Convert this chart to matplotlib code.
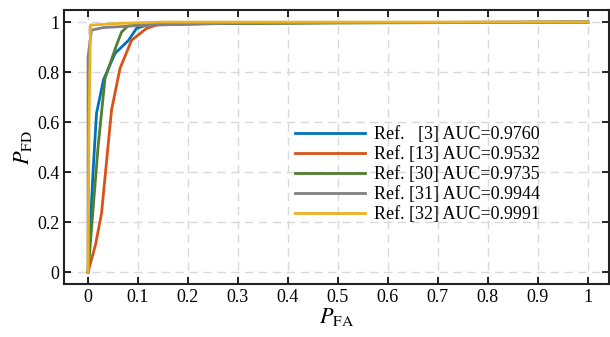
import numpy as np
import matplotlib.pyplot as plt

plt.rcParams['font.family'] = 'Liberation Serif'
plt.rcParams['mathtext.fontset'] = 'stix'

# curvas ROC
x_3 = [0, 0.005, 0.01, 0.017, 0.031, 0.054, 0.081, 0.097, 0.12, 0.2, 0.5, 1]
y_3 = [0, 0.2, 0.4, 0.636, 0.77, 0.875, 0.927, 0.975, 0.99, 0.995, 0.998, 1]

x_13 = [0, 0.015, 0.027, 0.047, 0.064, 0.087, 0.117, 0.14, 0.25, 0.5, 1]
y_13 = [0, 0.11, 0.235, 0.648, 0.815, 0.927, 0.975, 0.99, 0.995, 0.998, 1]

x_30 = [0, 0.01, 0.02, 0.034, 0.057, 0.067, 0.08, 0.12, 0.3, 1]
y_30 = [0, 0.25, 0.5, 0.775, 0.908, 0.96, 0.985, 0.99, 0.995, 1]

x_31 = [0, 0.0, 0.007, 0.03, 0.1, 0.2, 0.35, 1]
y_31 = [0, 0.86, 0.968, 0.978, 0.986, 0.992, 0.998, 1]

x_32 = [0, 0.002, 0.005, 0.064, 0.15, 1]
y_32 = [0, 0.6, 0.988, 0.995, 1.0, 1]

labels = ['Ref.   [3] AUC=0.9760', 'Ref. [13] AUC=0.9532', 'Ref. [30] AUC=0.9735',
          'Ref. [31] AUC=0.9944', 'Ref. [32] AUC=0.9991']
colors = ['#0072BD', '#D95319', '#4F7F2F', '#808080', '#EDB120']

fig = plt.figure(figsize=(6.1, 3.37), dpi=100)
ax = fig.add_axes([0.105, 0.157, 0.893, 0.813])

curvas = [(x_3, y_3), (x_13, y_13), (x_30, y_30), (x_31, y_31), (x_32, y_32)]
for (xx, yy), lab, col in zip(curvas, labels, colors):
    ax.plot(xx, yy, color=col, lw=2, label=lab)

ax.set_xlim(-0.048, 1.042)
ax.set_ylim(-0.048, 1.048)
ax.set_xticks(np.arange(0, 1.01, 0.1))
ax.set_xticklabels(['0', '0.1', '0.2', '0.3', '0.4', '0.5', '0.6', '0.7', '0.8', '0.9', '1'])
ax.set_yticks(np.arange(0, 1.01, 0.2))
ax.set_yticklabels(['0', '0.2', '0.4', '0.6', '0.8', '1'])
ax.grid(True, ls=(0, (6, 4)), color='#d9d9d9', lw=1)
ax.tick_params(direction='in', top=True, right=True, length=5, width=1.2, labelsize=13)
for s in ax.spines.values():
    s.set_linewidth(1.5)
    s.set_color('#222222')

ax.set_xlabel(r'$P_{\mathrm{FA}}$', fontsize=16, labelpad=0)
ax.set_ylabel(r'$P_{\mathrm{FD}}$', fontsize=16, labelpad=2)

ax.legend(loc='lower right', bbox_to_anchor=(0.887, 0.195), frameon=False, fontsize=13,
          handlelength=3.9, handletextpad=0.5, labelspacing=0.17, borderaxespad=0)

fig.savefig('out.png', dpi=100)
